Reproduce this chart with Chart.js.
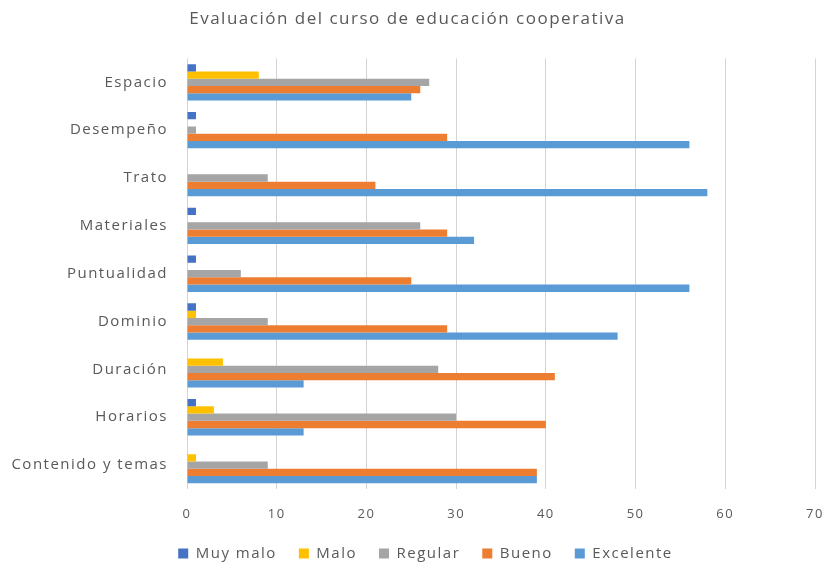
<!DOCTYPE html>
<html>
<head>
<meta charset="utf-8">
<script src="https://cdn.jsdelivr.net/npm/chart.js@4/dist/chart.umd.min.js"></script>
<style>
  html, body { margin: 0; padding: 0; background: #fff; }
  canvas { display: block; }
</style>
</head>
<body>
<canvas id="chart" width="824" height="567"></canvas>
<script>
const categories = ['Espacio', 'Desempeño', 'Trato', 'Materiales', 'Puntualidad', 'Dominio', 'Duración', 'Horarios', 'Contenido y temas'];

const muyMalo   = [1, 1, 0, 1, 1, 1, 0, 1, 0];
const malo      = [8, 0, 0, 0, 0, 1, 4, 3, 1];
const regular   = [27, 1, 9, 26, 6, 9, 28, 30, 9];
const bueno     = [26, 29, 21, 29, 25, 29, 41, 40, 39];
const excelente = [25, 56, 58, 32, 56, 48, 13, 13, 39];

const xTicks = [0, 10, 20, 30, 40, 50, 60, 70];

const canvas = document.getElementById('chart').getContext('2d');
const textColor = '#595959';
const font = "'Open Sans', 'Liberation Sans', sans-serif";

// the original text is spaced out, and its legend sits a bit right of centre
const spacing = {
    id: 'spacing',
    beforeUpdate: (chart) => { chart.ctx.letterSpacing = '1.5px'; },
    afterLayout: (chart) => {
        chart.legend.left += 18;
        chart.legend.right += 18;
    },
    beforeDraw: (chart) => { chart.ctx.letterSpacing = '1.5px'; }
};

const makeSet = (label, data, color) => ({
    label,
    data,
    backgroundColor: color,
    borderWidth: 0
});

const chart = new Chart(canvas, {
    type: 'bar',
    data: {
        labels: categories,
        datasets: [
            makeSet('Muy malo', muyMalo, '#4472C4'),
            makeSet('Malo', malo, '#FFC000'),
            makeSet('Regular', regular, '#A5A5A5'),
            makeSet('Bueno', bueno, '#ED7D31'),
            makeSet('Excelente', excelente, '#5B9BD5')
        ]
    },
    plugins: [spacing],
    options: {
        indexAxis: 'y',
        responsive: false,
        animation: false,
        datasets: {
            bar: { categoryPercentage: 0.76, barPercentage: 1 }
        },
        layout: { padding: { left: 0, right: 9, top: 9, bottom: -4 } },
        plugins: {
            title: {
                display: true,
                text: 'Evaluación del curso de educación cooperativa',
                color: textColor,
                font: { family: font, size: 17, weight: 'normal' },
                padding: { top: 0, bottom: 29 }
            },
            legend: {
                position: 'bottom',
                padding: 0,
                labels: {
                    color: textColor,
                    font: { family: font, size: 15 },
                    boxWidth: 10,
                    boxHeight: 10,
                    padding: 22
                }
            },
            tooltip: { enabled: false }
        },
        scales: {
            x: {
                min: 0,
                max: 70,
                afterBuildTicks: (scale) => {
                    scale.ticks = xTicks.map(v => ({ value: v }));
                },
                afterFit: (scale) => {
                    scale.paddingLeft = 0;
                    scale.paddingRight = 0;
                    scale.height = 35;
                },
                grid: {
                    display: true,
                    drawOnChartArea: true,
                    drawTicks: false,
                    color: '#d4d4d4',
                    lineWidth: 1
                },
                border: { display: false },
                ticks: {
                    color: textColor,
                    font: { family: font, size: 13 },
                    padding: 17
                }
            },
            y: {
                grid: { display: false, drawTicks: false },
                border: { display: false },
                afterFit: (scale) => { scale.width = 187; },
                ticks: {
                    color: textColor,
                    font: { family: font, size: 15 },
                    padding: 19
                }
            }
        }
    }
});
</script>
</body>
</html>
